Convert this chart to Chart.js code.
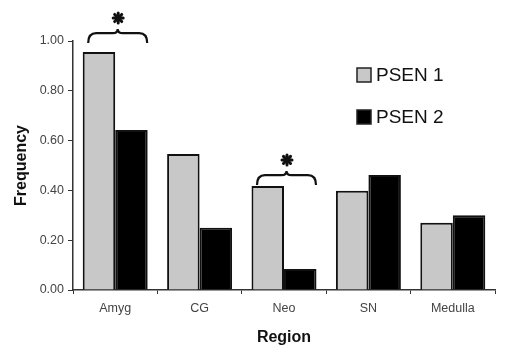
<!DOCTYPE html>
<html>
<head>
<meta charset="utf-8">
<script src="https://cdn.jsdelivr.net/npm/chart.js@4/dist/chart.umd.min.js"></script>
<style>
  html, body { margin: 0; padding: 0; background: #fff; }
  #wrap { width: 508px; height: 360px; }
</style>
</head>
<body>
<div id="wrap"><canvas id="freqChart" width="508" height="360"></canvas></div>
<script>
// Data
const regions = ["Amyg", "CG", "Neo", "SN", "Medulla"];
const psen1 = [0.956, 0.546, 0.418, 0.399, 0.27];
const psen2 = [0.643, 0.25, 0.084, 0.462, 0.30];
const yTicks = [0, 0.2, 0.4, 0.6, 0.8, 1.0];

// significance markers: category index and the value the brace sits on
const sigIndex = [0, 2];
const sigLevel = [1.0, 0.43];

const FONT = "'Liberation Sans', Arial, sans-serif";

// curly brace from x1 to x2, feet at yBase, tip at yTip
function drawBrace(ctx, x1, x2, yBase, yTip) {
  const mid = (x1 + x2) / 2;
  const yMid = yBase - (yBase - yTip) * 0.7;
  ctx.beginPath();
  ctx.moveTo(x1, yBase);
  ctx.quadraticCurveTo(x1, yMid, x1 + 8, yMid);
  ctx.lineTo(mid - 5, yMid);
  ctx.quadraticCurveTo(mid, yMid, mid, yTip);
  ctx.quadraticCurveTo(mid, yMid, mid + 5, yMid);
  ctx.lineTo(x2 - 8, yMid);
  ctx.quadraticCurveTo(x2, yMid, x2, yBase);
  ctx.stroke();
}

function drawStar(ctx, x, y, r) {
  ctx.save();
  ctx.lineWidth = 3;
  ctx.lineCap = "round";
  for (let i = 0; i < 4; i++) {
    const a = (Math.PI / 4) * i;
    ctx.beginPath();
    ctx.moveTo(x - r * Math.cos(a), y - r * Math.sin(a));
    ctx.lineTo(x + r * Math.cos(a), y + r * Math.sin(a));
    ctx.stroke();
  }
  ctx.restore();
}

// braces, asterisks and the legend box
const extras = {
  id: "extras",
  afterDraw(chart) {
    const ctx = chart.ctx;
    const xs = chart.scales.x;
    const ys = chart.scales.y;
    ctx.save();
    ctx.strokeStyle = "#111";
    ctx.fillStyle = "#111";
    ctx.lineWidth = 2.2;
    sigIndex.forEach((idx, i) => {
      const cx = xs.getPixelForValue(idx);
      const yb = ys.getPixelForValue(sigLevel[i]) + 2;
      drawBrace(ctx, cx - 27, cx + 32, yb, yb - 14);
      drawStar(ctx, cx + 3, yb - 25, 5);
    });

    // legend
    const items = [
      { label: "PSEN 1", fill: "#c8c8c8" },
      { label: "PSEN 2", fill: "#000" }
    ];
    ctx.font = "19px " + FONT;
    ctx.textBaseline = "middle";
    items.forEach((it, i) => {
      const y = 75 + i * 42;
      ctx.fillStyle = it.fill;
      ctx.fillRect(357, y - 7, 14, 14);
      ctx.strokeStyle = "#222";
      ctx.lineWidth = 1.5;
      ctx.strokeRect(357, y - 7, 14, 14);
      ctx.fillStyle = "#111";
      ctx.fillText(it.label, 376, y + 1);
    });
    ctx.restore();
  }
};

const ctx = document.getElementById("freqChart").getContext("2d");

new Chart(ctx, {
  type: "bar",
  data: {
    labels: regions,
    datasets: [
      {
        label: "PSEN 1",
        data: psen1,
        backgroundColor: "#c8c8c8",
        borderColor: "#111",
        borderWidth: 2,
        categoryPercentage: 0.77,
        barPercentage: 1.0
      },
      {
        label: "PSEN 2",
        data: psen2,
        backgroundColor: "#000",
        borderColor: "#111",
        borderWidth: 2,
        categoryPercentage: 0.77,
        barPercentage: 1.0
      }
    ]
  },
  options: {
    responsive: false,
    animation: false,
    layout: { padding: { left: 0, right: 13, top: 41, bottom: 0 } },
    plugins: {
      legend: { display: false },
      tooltip: { enabled: false }
    },
    scales: {
      x: {
        grid: {
          offset: true,
          drawOnChartArea: false,
          tickLength: 4,
          color: "#333",
          lineWidth: 1
        },
        border: { color: "#333", width: 1.5 },
        ticks: {
          color: "#444",
          font: { family: FONT, size: 12.5 },
          padding: 7
        },
        title: {
          display: true,
          text: "Region",
          color: "#111",
          font: { family: FONT, size: 16, weight: "bold" },
          padding: { top: 0, bottom: 13 }
        },
        afterFit(scale) { scale.height = 70; }
      },
      y: {
        min: 0,
        max: 1,
        afterBuildTicks(scale) {
          scale.ticks = yTicks.map((v) => ({ value: v }));
        },
        grid: {
          drawOnChartArea: false,
          tickLength: 5,
          color: "#333"
        },
        border: { color: "#333", width: 1.5 },
        ticks: {
          color: "#444",
          font: { family: FONT, size: 12.5 },
          padding: 4,
          callback: (v) => v.toFixed(2)
        },
        title: {
          display: true,
          text: "Frequency",
          color: "#111",
          font: { family: FONT, size: 16, weight: "bold" },
          padding: { top: 12, bottom: 0 }
        },
        afterFit(scale) { scale.width = 73; }
      }
    }
  },
  plugins: [extras]
});
</script>
</body>
</html>
